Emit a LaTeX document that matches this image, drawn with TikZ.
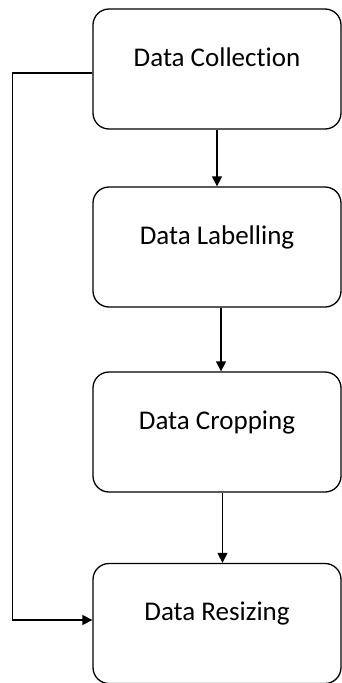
\documentclass[tikz,border=0pt]{standalone}
\usepackage{fontspec}
\setmainfont{Carlito}[Ligatures=NoCommon]
\usetikzlibrary{arrows.meta}

\begin{document}
\begin{tikzpicture}[
  stage/.style={draw, rectangle, rounded corners=16pt, line width=1.3pt, minimum width=248pt, minimum height=120pt, text height=19pt, text depth=25pt, font=\fontsize{27}{31}\selectfont},
  flow/.style={-{Triangle[length=10pt,width=10pt]}, line width=1.3pt}]
\useasboundingbox (0pt,0pt) rectangle (342pt,-683pt);
\node (collect)[stage] at (217pt,-69pt) {Data Collection};
\node (labelling)[stage, below of=collect, node distance=178pt] {Data Labelling};
\node (cropping)[stage, below of=labelling, node distance=185pt] {Data Cropping};
\node (resizing)[stage, below of=cropping, node distance=191.5pt] {Data Resizing};
% main chain
\draw [flow](collect.south)--(labelling.north);
\draw [flow]([xshift=4pt]labelling.south)--([xshift=4pt]cropping.north);
\draw [flow]([xshift=5.5pt]cropping.south)--([xshift=5.5pt]resizing.north);
% skip straight to resizing
\draw [flow]([yshift=-4pt]collect.west)--++(-80pt,0)|-([yshift=3.5pt]resizing.west);
\end{tikzpicture}
\end{document}
